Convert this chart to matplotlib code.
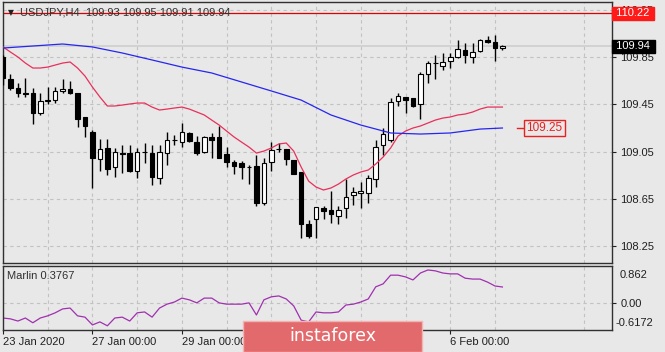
import matplotlib
matplotlib.use("Agg")
import matplotlib.pyplot as plt
from matplotlib.patches import Rectangle

# USDJPY H4 candles
opens = [109.85, 109.66, 109.59, 109.55, 109.55, 109.38, 109.48, 109.49, 109.56, 109.58,
         109.55, 109.34, 109.22, 108.99, 109.08, 108.92, 109.04, 109.04, 108.89, 109.05,
         109.04, 108.83, 109.04, 109.15, 109.13, 109.21, 109.13, 109.05, 109.17, 109.17,
         109.03, 108.96, 108.95, 108.92, 108.93, 108.62, 108.96, 109.07, 109.07, 108.98,
         108.88, 108.44, 108.48, 108.57, 108.56, 108.51, 108.57, 108.68, 108.70, 108.70,
         108.82, 109.11, 109.15, 109.48, 109.51, 109.50, 109.45, 109.71, 109.80, 109.77,
         109.82, 109.85, 109.91, 109.85, 109.90, 109.99, 109.98, 109.93]
highs = [109.87, 109.71, 109.63, 109.67, 109.59, 109.55, 109.60, 109.60, 109.66, 109.65,
         109.55, 109.34, 109.23, 109.16, 109.16, 109.08, 109.11, 109.11, 109.08, 109.12,
         109.11, 109.11, 109.22, 109.19, 109.29, 109.22, 109.18, 109.18, 109.21, 109.27,
         109.09, 108.98, 108.97, 108.94, 109.02, 109.00, 109.13, 109.12, 109.07, 108.98,
         108.88, 108.47, 108.58, 108.59, 108.72, 108.59, 108.82, 108.75, 108.79, 108.85,
         109.15, 109.25, 109.50, 109.55, 109.51, 109.50, 109.72, 109.82, 109.87, 109.88,
         109.88, 109.99, 109.97, 109.97, 110.00, 110.03, 110.04, 109.95]
lows = [109.61, 109.57, 109.51, 109.51, 109.28, 109.36, 109.45, 109.46, 109.55, 109.54,
        109.26, 109.17, 108.74, 108.89, 108.85, 108.84, 108.87, 108.88, 108.83, 108.95,
        108.77, 108.78, 108.94, 109.11, 109.09, 109.13, 109.02, 109.04, 109.00, 109.00,
        108.92, 108.86, 108.82, 108.78, 108.59, 108.60, 108.89, 109.05, 108.94, 108.86,
        108.32, 108.32, 108.32, 108.48, 108.45, 108.44, 108.49, 108.60, 108.57, 108.62,
        108.75, 109.02, 109.13, 109.44, 109.38, 109.43, 109.33, 109.63, 109.66, 109.74,
        109.76, 109.84, 109.80, 109.80, 109.89, 109.97, 109.82, 109.91]
closes = [109.67, 109.59, 109.55, 109.54, 109.38, 109.48, 109.49, 109.56, 109.58, 109.55,
          109.33, 109.27, 109.00, 109.07, 108.90, 109.05, 109.03, 108.89, 109.05, 109.05,
          108.84, 109.05, 109.15, 109.15, 109.22, 109.14, 109.04, 109.17, 109.15, 109.00,
          108.96, 108.93, 108.92, 108.92, 108.62, 108.95, 109.06, 109.07, 108.99, 108.86,
          108.44, 108.34, 108.58, 108.55, 108.52, 108.56, 108.67, 108.71, 108.72, 108.83,
          109.09, 109.20, 109.47, 109.52, 109.49, 109.44, 109.71, 109.80, 109.80, 109.81,
          109.85, 109.92, 109.87, 109.89, 109.99, 109.98, 109.93, 109.94]

# fast MA (red), one value per bar
ma_red = [109.935, 109.892, 109.850, 109.799, 109.757, 109.757, 109.765, 109.782, 109.799, 109.808,
          109.757, 109.689, 109.596, 109.512, 109.436, 109.436, 109.444, 109.453, 109.461, 109.461,
          109.427, 109.402, 109.410, 109.419, 109.427, 109.410, 109.385, 109.360, 109.317, 109.275,
          109.224, 109.174, 109.131, 109.089, 109.038, 109.055, 109.081, 109.115, 109.123, 109.055,
          108.920, 108.801, 108.751, 108.726, 108.743, 108.776, 108.819, 108.853, 108.878, 108.895,
          108.945, 109.005, 109.081, 109.182, 109.224, 109.250, 109.267, 109.292, 109.317, 109.334,
          109.343, 109.360, 109.368, 109.385, 109.410, 109.427, 109.427, 109.427]

# slow MA (blue), read every 4 bars
ma_blue_bars = [0, 4, 8, 12, 16, 20, 24, 28, 32, 36, 40, 44, 48, 52, 56, 60, 64, 67]
ma_blue = [109.926, 109.943, 109.960, 109.935, 109.884, 109.825, 109.765, 109.715, 109.639,
           109.563, 109.486, 109.360, 109.275, 109.208, 109.199, 109.208, 109.241, 109.25]

# Marlin oscillator
marlin = [-0.34, -0.36, -0.41, -0.34, -0.45, -0.34, -0.29, -0.22, -0.13, -0.11,
          -0.29, -0.32, -0.50, -0.43, -0.52, -0.34, -0.32, -0.41, -0.22, -0.20,
          -0.32, -0.11, -0.02, 0.03, 0.12, 0.08, 0.01, 0.12, 0.12, 0.01,
          -0.02, -0.02, -0.02, 0.01, -0.27, 0.08, 0.15, 0.17, 0.10, -0.06,
          -0.39, -0.43, -0.20, -0.22, -0.22, -0.20, -0.04, -0.02, 0.03, 0.10,
          0.38, 0.45, 0.65, 0.65, 0.61, 0.54, 0.70, 0.77, 0.75, 0.70,
          0.68, 0.68, 0.58, 0.56, 0.56, 0.49, 0.40, 0.3767]

price_ticks = [110.25, 109.85, 109.45, 109.05, 108.65, 108.25]
# labels for 31 Jan and 4 Feb sit under the watermark in the original
date_ticks = [0, 12, 24, 36, 48, 60]
date_labels = ["23 Jan 2020", "27 Jan 00:00", "29 Jan 00:00", "", "", "6 Feb 00:00"]
alert_level = 110.22
bid = 109.94
label_level = 109.25

BG = "#e8e8e8"
FONT = ["Liberation Sans", "DejaVu Sans"]
plt.rcParams["font.family"] = FONT

W, H = 665, 352
fig = plt.figure(figsize=(W / 100, H / 100), dpi=100, facecolor=BG)
ax = fig.add_axes([3 / W, (H - 263) / H, 609 / W, 261 / H], facecolor=BG)
ax2 = fig.add_axes([3 / W, 22 / H, 609 / W, 64 / H], facecolor=BG)

xmax = 81.7
for a in (ax, ax2):
    a.set_xlim(0, xmax)
    for s in a.spines.values():
        s.set_color("#303030")
        s.set_linewidth(1)
    a.set_xticks(date_ticks)
    a.set_xticks([d + 6 for d in range(0, 78, 12)], minor=True)
    a.tick_params(axis="x", which="minor", length=0)
    a.grid(True, which="both", color="#c2c2c2", linestyle=(0, (3, 3)), linewidth=0.8)
    a.set_axisbelow(True)

ax.set_ylim(108.109, 110.315)
ax.yaxis.tick_right()
ax.set_yticks(price_ticks)
ax.set_yticklabels([f"{p:.2f}" for p in price_ticks])
ax.tick_params(axis="y", direction="out", length=3, labelsize=8, pad=3, colors="#202020")
ax.tick_params(axis="x", length=0, labelbottom=False)

# candles
n = len(opens)
for i in range(n):
    o, h, l, c = opens[i], highs[i], lows[i], closes[i]
    ax.vlines(i, l, h, color="black", linewidth=1, zorder=3)
    bull = c >= o
    ax.bar(i, abs(c - o), bottom=min(o, c), width=0.62,
           color="white" if bull else "black", edgecolor="black", linewidth=0.8, zorder=4)

ax.plot(range(n), ma_red, color="#e8305a", linewidth=0.9, zorder=5)
ax.plot(ma_blue_bars, ma_blue, color="#2626f0", linewidth=0.9, zorder=5)

# alert + bid lines
ax.axhline(alert_level, color="#e00000", linewidth=0.9, zorder=2)
ax.axhline(bid, color="#d2d2d2", linewidth=1.4, zorder=1)

ytr = ax.get_yaxis_transform()
ax.text(1.002, alert_level, " 110.22 ", transform=ytr, ha="left", va="center",
        fontsize=8, color="white", clip_on=False, zorder=10,
        bbox=dict(boxstyle="square,pad=0.12", fc="#ff1a1a", ec="#ff1a1a"))
ax.text(1.002, bid, " 109.94 ", transform=ytr, ha="left", va="center",
        fontsize=8, color="white", clip_on=False, zorder=10,
        bbox=dict(boxstyle="square,pad=0.12", fc="black", ec="black"))

# price label object for the slow MA
ax.plot([n + 0.9, n + 2.1], [label_level, label_level], color="#e82020", linewidth=1, zorder=6)
ax.text(n + 2.2, label_level, "109.25", ha="left", va="center", fontsize=8.5,
        color="#e82020", zorder=6,
        bbox=dict(boxstyle="square,pad=0.2", fc=BG, ec="#e82020", lw=1))

# title
ax.text(0.008, 0.96, "\u25bc", transform=ax.transAxes, fontsize=5.5, color="#202020",
        va="center", ha="left", family="DejaVu Sans", zorder=11)
ax.text(0.028, 0.958, "USDJPY,H4  109.93 109.95 109.91 109.94", transform=ax.transAxes,
        fontsize=8, color="#303030", va="center", ha="left", zorder=11)

# Marlin window
ax2.plot(range(n), marlin, color="#a030b0", linewidth=0.9)
ax2.set_ylim(-0.6172, 0.862)
ax2.yaxis.tick_right()
ax2.set_yticks([0])
ax2.set_yticklabels(["0.00"])
ax2.tick_params(axis="y", direction="out", length=3, labelsize=8, pad=3, colors="#202020")
ax2.set_xticklabels(date_labels)
ax2.tick_params(axis="x", which="major", direction="out", length=3, labelsize=8, pad=2,
                colors="#202020")
for lab in ax2.get_xticklabels():
    lab.set_horizontalalignment("left")
ax2.text(1.012, 0.86, "0.862", transform=ax2.transAxes, fontsize=8, va="center",
         ha="left", color="#202020", clip_on=False)
ax2.text(1.006, 0.11, "-0.6172", transform=ax2.transAxes, fontsize=8, va="center",
         ha="left", color="#202020", clip_on=False)
ax2.text(0.007, 0.84, "Marlin 0.3767", transform=ax2.transAxes, fontsize=8,
         va="center", ha="left", color="#303030")

# watermark
fig.patches.append(Rectangle((243 / W, 0), 179 / W, 31 / H, transform=fig.transFigure,
                             facecolor="#e36a6c", edgecolor="#f3b3b3", linewidth=1, zorder=20))
fig.text(333 / W, 16 / H, "instaforex", color="white", fontsize=12.5, ha="center",
         va="center", family="DejaVu Sans", zorder=21)

fig.savefig("out.png", dpi=100, facecolor=BG)
